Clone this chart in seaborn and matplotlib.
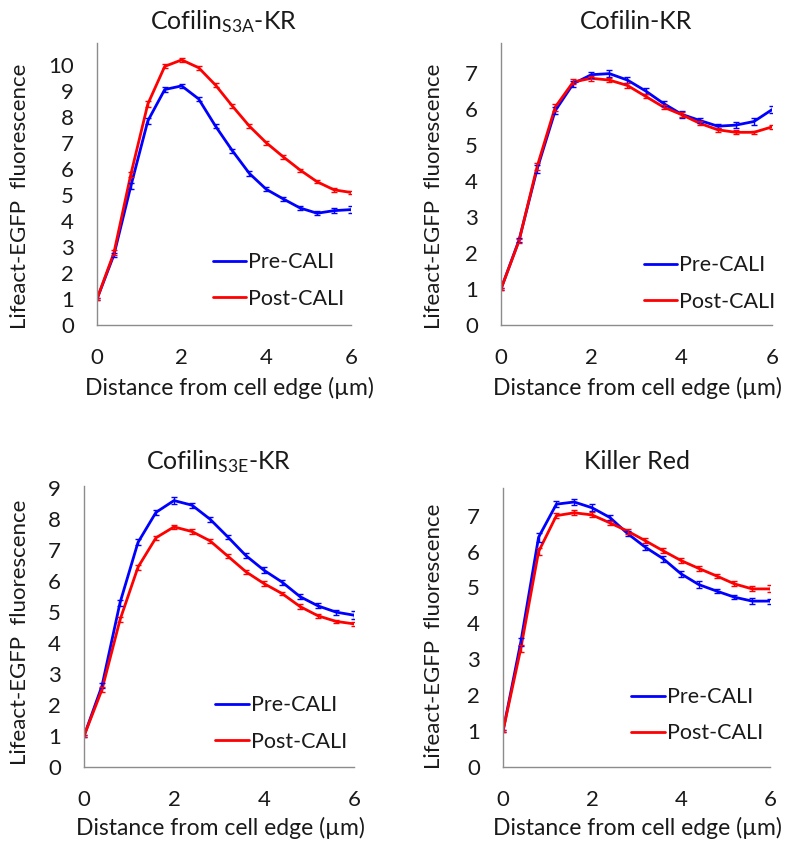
import numpy as np
import pandas as pd
import matplotlib
matplotlib.use("Agg")
import matplotlib.pyplot as plt
import seaborn as sns
from matplotlib.lines import Line2D

sns.set_style("white")
plt.rcParams['font.family'] = ['Lato', 'DejaVu Sans']
plt.rcParams['mathtext.fontset'] = 'custom'
plt.rcParams['mathtext.rm'] = 'Lato'
plt.rcParams['mathtext.default'] = 'regular'

# ---------------- data ----------------
distance = [0.0, 0.4, 0.8, 1.2, 1.6, 2.0, 2.4, 2.8, 3.2, 3.6, 4.0, 4.4, 4.8, 5.2, 5.6, 6.0]
conditions = ["Pre-CALI", "Post-CALI"]

titles = ["Cofilin$_{\\mathregular{S3A}}$-KR", "Cofilin-KR",
          "Cofilin$_{\\mathregular{S3E}}$-KR", "Killer Red"]

s3a_pre = [1.0, 2.7, 5.35, 7.85, 9.06, 9.2, 8.7, 7.65, 6.7, 5.83, 5.22, 4.85, 4.5, 4.3, 4.4, 4.44]
s3a_post = [1.0, 2.78, 5.8, 8.5, 9.95, 10.2, 9.9, 9.23, 8.42, 7.65, 7.01, 6.47, 5.96, 5.51, 5.2, 5.1]
s3a_pre_err = [0.03, 0.08, 0.12, 0.1, 0.08, 0.08, 0.08, 0.08, 0.08, 0.08, 0.08, 0.08, 0.07, 0.08, 0.1, 0.12]
s3a_post_err = [0.03, 0.1, 0.1, 0.1, 0.08, 0.08, 0.07, 0.07, 0.07, 0.07, 0.07, 0.07, 0.06, 0.06, 0.07, 0.07]

wt_pre = [1.0, 2.36, 4.33, 5.95, 6.7, 6.95, 6.98, 6.8, 6.5, 6.15, 5.85, 5.68, 5.52, 5.55, 5.65, 5.98]
wt_post = [1.0, 2.34, 4.4, 6.05, 6.75, 6.85, 6.8, 6.65, 6.35, 6.05, 5.84, 5.6, 5.42, 5.35, 5.35, 5.5]
wt_pre_err = [0.02, 0.05, 0.1, 0.1, 0.08, 0.08, 0.09, 0.08, 0.08, 0.08, 0.09, 0.08, 0.06, 0.09, 0.09, 0.1]
wt_post_err = [0.02, 0.05, 0.1, 0.1, 0.07, 0.07, 0.06, 0.06, 0.06, 0.06, 0.07, 0.06, 0.06, 0.06, 0.05, 0.06]

s3e_pre = [1.0, 2.62, 5.3, 7.25, 8.22, 8.6, 8.45, 8.0, 7.42, 6.82, 6.35, 5.97, 5.5, 5.2, 5.0, 4.9]
s3e_post = [1.0, 2.5, 4.75, 6.45, 7.4, 7.75, 7.6, 7.3, 6.8, 6.3, 5.92, 5.6, 5.18, 4.88, 4.7, 4.62]
s3e_pre_err = [0.02, 0.08, 0.1, 0.1, 0.08, 0.1, 0.08, 0.08, 0.07, 0.08, 0.09, 0.08, 0.07, 0.08, 0.08, 0.12]
s3e_post_err = [0.02, 0.08, 0.08, 0.08, 0.07, 0.07, 0.07, 0.07, 0.06, 0.06, 0.08, 0.06, 0.07, 0.06, 0.06, 0.07]

kr_pre = [1.0, 3.48, 6.4, 7.32, 7.38, 7.22, 6.95, 6.5, 6.12, 5.8, 5.38, 5.08, 4.9, 4.73, 4.62, 4.62]
kr_post = [1.0, 3.3, 6.0, 7.0, 7.08, 7.02, 6.8, 6.57, 6.3, 6.02, 5.75, 5.53, 5.32, 5.1, 4.96, 4.96]
kr_pre_err = [0.02, 0.1, 0.12, 0.08, 0.08, 0.1, 0.08, 0.08, 0.07, 0.08, 0.08, 0.09, 0.06, 0.06, 0.08, 0.07]
kr_post_err = [0.02, 0.1, 0.1, 0.07, 0.07, 0.07, 0.06, 0.07, 0.07, 0.07, 0.07, 0.08, 0.06, 0.07, 0.07, 0.1]

y_tops = [10.85, 7.83, 9.07, 7.77]
y_ticks = [list(range(0, 11)), list(range(0, 8)), list(range(0, 10)), list(range(0, 8))]
x_ticks = [0, 2, 4, 6]

panels = [
    (s3a_pre, s3a_post, s3a_pre_err, s3a_post_err),
    (wt_pre, wt_post, wt_pre_err, wt_post_err),
    (s3e_pre, s3e_post, s3e_pre_err, s3e_post_err),
    (kr_pre, kr_post, kr_pre_err, kr_post_err),
]

# ---------------- layout ----------------
W, H = 788, 844
axes_px = [(97, 351, 43, 325), (501, 772, 43, 325), (84, 354, 486, 767), (503, 770, 488, 767)]
legend_pos = [(0.455, 0.158), (0.526, 0.147), (0.487, 0.155), (0.481, 0.185)]
ylabel_pos = [(-0.303, 0.457), (-0.247, 0.457), (-0.237, 0.48), (-0.258, 0.47)]
xlabel_pos = [(0.52, -0.223), (0.504, -0.223), (0.504, -0.217), (0.503, -0.219)]
title_y = [1.075, 1.075, 1.086, 1.094]

colors = {"Pre-CALI": "#0000FF", "Post-CALI": "#FF0000"}
gray = "#8c8c8c"
txt = "#1a1a1a"

fig = plt.figure(figsize=(W / 100, H / 100), dpi=100)

for i, (pre, post, pre_e, post_e) in enumerate(panels):
    l, r, t, b = axes_px[i]
    ax = fig.add_axes([l / W, 1 - b / H, (r - l) / W, (b - t) / H])
    df = pd.DataFrame({
        "distance": distance * 2,
        "value": pre + post,
        "err": pre_e + post_e,
        "condition": [conditions[0]] * len(distance) + [conditions[1]] * len(distance),
    })
    sns.lineplot(data=df, x="distance", y="value", hue="condition", palette=colors,
                 hue_order=conditions, linewidth=2.0, ax=ax, legend=False, sort=False)
    for cond in conditions:
        sub = df[df["condition"] == cond]
        ax.errorbar(sub["distance"], sub["value"], yerr=sub["err"], fmt="none",
                    ecolor=colors[cond], elinewidth=1.0, capsize=2.5, capthick=1.0)
    ax.set_xlim(0, 6)
    ax.set_ylim(0, y_tops[i])
    ax.set_xticks(x_ticks)
    ax.set_yticks(y_ticks[i])
    ax.tick_params(axis="both", direction="out", length=6.5, width=1, color=gray,
                   labelsize=16, labelcolor=txt)
    ax.tick_params(axis="y", pad=10)
    ax.tick_params(axis="x", pad=10)
    for s in ["top", "right"]:
        ax.spines[s].set_visible(False)
    for s in ["left", "bottom"]:
        ax.spines[s].set_color(gray)
        ax.spines[s].set_linewidth(1)
    ax.set_xlabel("Distance from cell edge (µm)", fontsize=16.5, color=txt)
    ax.set_ylabel("Lifeact-EGFP  fluorescence", fontsize=16, color=txt)
    ax.xaxis.set_label_coords(*xlabel_pos[i])
    ax.yaxis.set_label_coords(*ylabel_pos[i])
    ax.xaxis.label.set_va("center")
    ax.yaxis.label.set_va("center")
    ax.text(0.5, title_y[i], titles[i], transform=ax.transAxes, ha="center",
            va="center", fontsize=18, color=txt)
    handles = [Line2D([0], [0], color=colors[c], lw=2.0) for c in conditions]
    ax.legend(handles, conditions, loc="center left", bbox_to_anchor=legend_pos[i],
              frameon=False, fontsize=15.5, handlelength=1.55, handletextpad=0.1,
              labelspacing=0.75, borderpad=0, borderaxespad=0, labelcolor=txt)
    ax.set_facecolor("white")

fig.savefig("out.png", dpi=100, facecolor="white")
